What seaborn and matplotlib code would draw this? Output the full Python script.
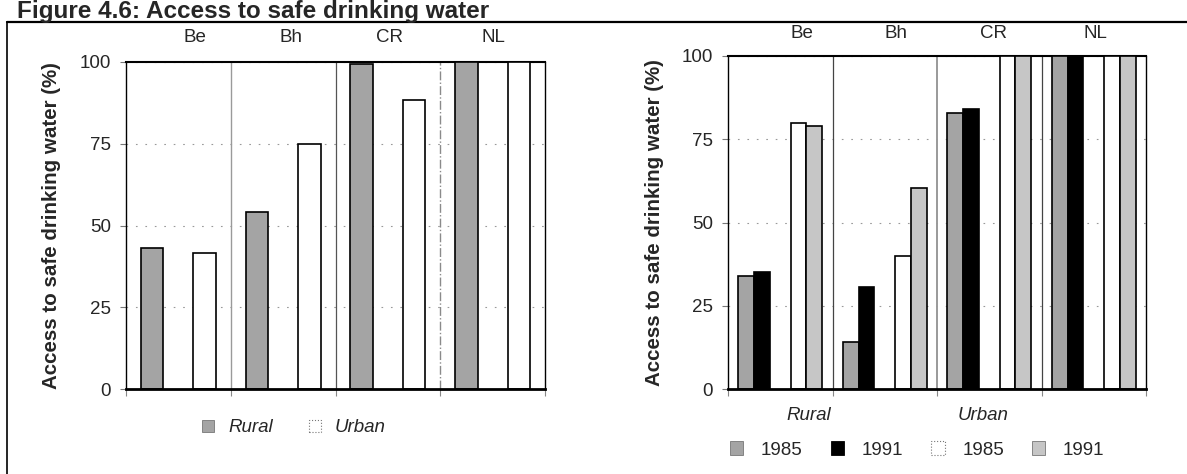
import matplotlib
matplotlib.use("Agg")
import matplotlib.pyplot as plt
from matplotlib.patches import Patch
from matplotlib.lines import Line2D
import seaborn as sns
import pandas as pd

# ---------------- data ----------------
countries = ["Be", "Bh", "CR", "NL"]
areas = ["Rural", "Urban"]
years = ["1985", "1991"]

# left chart: access by area
left_rural = [43, 54, 99.5, 100]
left_urban = [41.5, 75, 88.5, 100]

# right chart: access by area and year
rural_1985 = [34, 14, 83, 100]
rural_1991 = [35, 30.5, 84, 100]
urban_1985 = [80, 40, 100, 100]
urban_1991 = [79, 60.5, 100, 100]

title = "Figure 4.6: Access to safe drinking water"
ylabel = "Access to safe drinking water (%)"
yticks = [0, 25, 50, 75, 100]

# ---------------- frames ----------------
slots = [f"{c} {a}" for c in countries for a in areas]

rows = []
for i, c in enumerate(countries):
    rows.append({"slot": f"{c} Rural", "area": "Rural", "value": left_rural[i]})
    rows.append({"slot": f"{c} Urban", "area": "Urban", "value": left_urban[i]})
df_left = pd.DataFrame(rows)

rows_r, rows_u = [], []
for i, c in enumerate(countries):
    rows_r.append({"slot": f"{c} Rural", "year": "1985", "value": rural_1985[i]})
    rows_r.append({"slot": f"{c} Rural", "year": "1991", "value": rural_1991[i]})
    rows_u.append({"slot": f"{c} Urban", "year": "1985", "value": urban_1985[i]})
    rows_u.append({"slot": f"{c} Urban", "year": "1991", "value": urban_1991[i]})
df_rural = pd.DataFrame(rows_r)
df_urban = pd.DataFrame(rows_u)

# ---------------- style ----------------
sns.set_style("white")
plt.rcParams["font.family"] = ["Liberation Sans", "DejaVu Sans"]

C_DARK = "#a4a4a4"
C_LIGHT = "#c6c6c6"
FS = 13.5

W, H = 1187, 474
fig = plt.figure(figsize=(W / 100, H / 100), dpi=100)

def px_axes(x0, y0, x1, y1):
    return fig.add_axes([x0 / W, 1 - y1 / H, (x1 - x0) / W, (y1 - y0) / H])

ax1 = px_axes(126, 62, 545, 389)
ax2 = px_axes(728, 56, 1146, 389)

sns.barplot(data=df_left, x="slot", y="value", hue="area", order=slots,
            hue_order=areas, palette={"Rural": C_DARK, "Urban": "white"},
            dodge=False, width=0.43, edgecolor="black", linewidth=1.2,
            errorbar=None, legend=False, ax=ax1, zorder=3)

sns.barplot(data=df_rural, x="slot", y="value", hue="year", order=slots,
            hue_order=years, palette=[C_DARK, "black"], dodge=True, width=0.6,
            edgecolor="black", linewidth=1.2, errorbar=None, legend=False,
            ax=ax2, zorder=3)
sns.barplot(data=df_urban, x="slot", y="value", hue="year", order=slots,
            hue_order=years, palette=["white", C_LIGHT], dodge=True, width=0.6,
            edgecolor="black", linewidth=1.2, errorbar=None, legend=False,
            ax=ax2, zorder=3)

dividers = {
    ax1: [("#9a9a9a", "-", 1.0), ("#555555", "-", 0.9), ("#8a8a8a", "-.", 1.0)],
    ax2: [("#444444", "-", 0.9), ("#9a9a9a", "-", 1.4), ("#444444", "-", 0.9)],
}

for ax in (ax1, ax2):
    ax.set_ylim(0, 100)
    ax.set_xlim(-0.5, len(slots) - 0.5)
    ax.set_yticks(yticks)
    ax.set_yticklabels([str(t) for t in yticks], fontsize=FS)
    ax.set_xticks([-0.5, 1.5, 3.5, 5.5, 7.5])
    ax.set_xticklabels([])
    ax.set_xlabel("")
    ax.set_ylabel(ylabel, fontsize=14.8, fontweight="bold")
    ax.tick_params(axis="y", left=True, length=4, width=0.8, color="#777777",
                   pad=7, direction="out")
    ax.tick_params(axis="x", bottom=True, length=5, width=0.8, color="#888888",
                   direction="out")
    ax.grid(axis="y", linestyle=(0, (1.5, 7)), color="#999999", linewidth=0.8,
            zorder=0)
    ax.grid(axis="x", visible=False)
    for pos, (col, ls, lw) in zip([1.5, 3.5, 5.5], dividers[ax]):
        ax.axvline(pos, color=col, linestyle=ls, linewidth=lw, zorder=1)
    for s in ("left", "right"):
        ax.spines[s].set_color("black")
        ax.spines[s].set_linewidth(1.0)
    ax.spines["top"].set_color("black")
    ax.spines["top"].set_linewidth(1.5)
    ax.spines["bottom"].set_color("black")
    ax.spines["bottom"].set_linewidth(2.0)
    ax.spines["bottom"].set_zorder(5)

ax1.yaxis.set_label_coords(-0.155, 0.5)
ax2.yaxis.set_label_coords(-0.153, 0.5)

# country labels above each chart
for ax, xs, yc in ((ax1, [0.165, 0.394, 0.628, 0.876], 1.076),
                   (ax2, [0.177, 0.402, 0.634, 0.880], 1.069)):
    for c, x in zip(countries, xs):
        ax.text(x, yc, c, transform=ax.transAxes, ha="center", va="center",
                fontsize=FS)

# area labels under right chart
for a, x in zip(areas, [0.194, 0.61]):
    ax2.text(x, -0.081, a, transform=ax2.transAxes, ha="center", va="center",
             fontsize=FS, style="italic")

# legends
h_left = [Patch(facecolor=C_DARK, edgecolor="#777777", linewidth=0.6),
          Patch(facecolor="white", edgecolor="#777777", linewidth=0.8,
                linestyle=":")]
fig.legend(h_left, areas, loc="center left",
           bbox_to_anchor=(202 / W, 1 - 428 / H), ncol=2, frameon=False,
           borderpad=0, borderaxespad=0, handlelength=0.65, handleheight=0.65,
           handletextpad=0.75, columnspacing=1.9,
           prop={"size": FS, "style": "italic"})

h_right = [Patch(facecolor=C_DARK, edgecolor="#777777", linewidth=0.6),
           Patch(facecolor="black", edgecolor="black", linewidth=0.6),
           Patch(facecolor="white", edgecolor="#777777", linewidth=0.8,
                 linestyle=":"),
           Patch(facecolor=C_LIGHT, edgecolor="#777777", linewidth=0.6)]
fig.legend(h_right, years + years, loc="center left",
           bbox_to_anchor=(730 / W, 1 - 450 / H), ncol=4, frameon=False,
           borderpad=0, borderaxespad=0, handlelength=0.7, handleheight=0.7,
           handletextpad=0.95, columnspacing=1.5, prop={"size": FS})

# title and frame
fig.text(17 / W, 1 - 18 / H, title, fontsize=17.5, fontweight="bold",
         ha="left", va="baseline", zorder=5)
fig.add_artist(Line2D([7 / W, 1.0], [1 - 21.5 / H, 1 - 21.5 / H],
                      transform=fig.transFigure, color="black", linewidth=1.6,
                      zorder=1))
fig.add_artist(Line2D([7 / W, 7 / W], [1 - 21.5 / H, 0.0],
                      transform=fig.transFigure, color="black", linewidth=1.2,
                      zorder=1))

fig.savefig("out.png", dpi=100)
